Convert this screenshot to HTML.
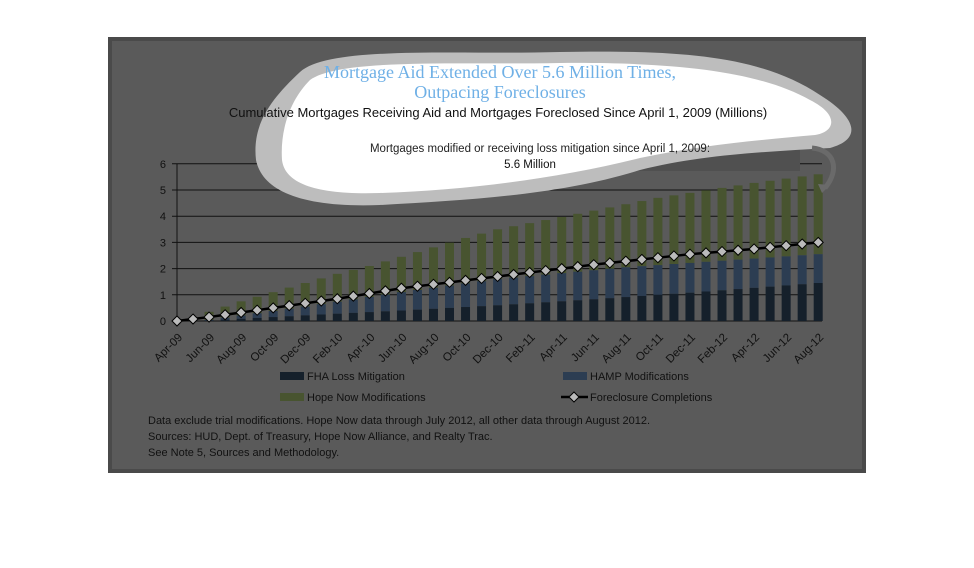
<!DOCTYPE html>
<html><head><meta charset="utf-8"><style>
html,body{margin:0;padding:0;background:#fff;width:974px;height:568px;overflow:hidden}
svg{display:block}
text{font-family:"Liberation Sans",sans-serif}
</style></head><body>
<svg id="s" width="974" height="568" xmlns="http://www.w3.org/2000/svg">
<rect x="0" y="0" width="974" height="568" fill="#fff"/>
<rect x="108" y="37" width="758" height="436" fill="#4a4a4a"/>
<rect x="112" y="41" width="750" height="428" fill="#5a5a5a"/>
<g id="grid"></g>
<g id="bars"></g>
<g id="line"></g>
<g id="xl"></g>
<rect x="278" y="138" width="522" height="33" fill="#505050"/>
<path d="M300,72 C330,45 460,55 560,52 C680,50 760,55 820,95 C860,120 860,140 830,148 C760,152 700,155 640,170 C560,195 470,200 380,205 C300,208 262,190 256,160 C252,125 270,100 300,72 Z" fill="#bdbdbd"/>
<path d="M310,80 C340,58 460,65 560,63 C680,62 760,72 810,100 C840,115 835,132 815,135 C760,140 700,145 640,158 C560,178 470,190 380,193 C320,195 285,185 282,160 C280,130 290,100 310,80 Z" fill="#fff"/>
<path d="M812,148 C835,150 840,170 825,188" fill="none" stroke="#6a6a6a" stroke-width="5"/>
<path d="M818,184 L822,193 L830,185 Z" fill="#6a6a6a"/>
<text x="500" y="78" text-anchor="middle" font-size="18" fill="#6fb0e6" style="font-family:'Liberation Serif',serif">Mortgage Aid Extended Over 5.6 Million Times,</text>
<text x="500" y="98" text-anchor="middle" font-size="18" fill="#6fb0e6" style="font-family:'Liberation Serif',serif">Outpacing Foreclosures</text>
<text x="498" y="117" text-anchor="middle" font-size="13" fill="#111">Cumulative Mortgages Receiving Aid and Mortgages Foreclosed Since April 1, 2009 (Millions)</text>
<text x="540" y="152" text-anchor="middle" font-size="11.5" fill="#222">Mortgages modified or receiving loss mitigation since April 1, 2009:</text>
<text x="530" y="168" text-anchor="middle" font-size="11.5" fill="#111">5.6 Million</text>
<g font-size="11" fill="#111">
<rect x="280" y="372" width="24" height="8" fill="#15202b"/><text x="307" y="380">FHA Loss Mitigation</text>
<rect x="563" y="372" width="24" height="8" fill="#2c3d52"/><text x="590" y="380">HAMP Modifications</text>
<rect x="280" y="393" width="24" height="8" fill="#485430"/><text x="307" y="401">Hope Now Modifications</text>
<line x1="561" y1="397" x2="588" y2="397" stroke="#000" stroke-width="2.5"/><path d="M574,392 L579,397 L574,402 L569,397 Z" fill="#bbb" stroke="#000"/><text x="590" y="401">Foreclosure Completions</text>
<text x="148" y="424">Data exclude trial modifications. Hope Now data through July 2012, all other data through August 2012.</text>
<text x="148" y="440">Sources:  HUD, Dept. of Treasury, Hope Now Alliance, and Realty Trac.</text>
<text x="148" y="456">See Note 5, Sources and Methodology.</text>
</g>
</svg>
<script>
var NS="http://www.w3.org/2000/svg";
function el(p,t,a,txt){var e=document.createElementNS(NS,t);for(var k in a)e.setAttribute(k,a[k]);if(txt!=null)e.textContent=txt;document.getElementById(p).appendChild(e);return e;}
var y0=321,sc=26.2,x0=177,dx=16.03;
function Y(v){return y0-v*sc}
function interp(pts,i){for(var k=0;k<pts.length-1;k++){if(i<=pts[k+1][0]){var a=pts[k],b=pts[k+1];return a[1]+(b[1]-a[1])*(i-a[0])/(b[0]-a[0]);}}return pts[pts.length-1][1];}
var tot=[[0,0],[1,0.1],[2,0.35],[4,0.75],[6,1.1],[8,1.45],[10,1.8],[12,2.1],[14,2.45],[18,3.17],[20,3.5],[24,3.97],[30,4.7],[36,5.27],[40,5.6]];
var fhaP=[[0,0],[2,0.02],[6,0.15],[10,0.28],[14,0.4],[20,0.6],[26,0.83],[32,1.08],[40,1.45]];
var hampP=[[0,0],[2,0.04],[8,0.55],[14,1.1],[20,1.6],[28,2.05],[34,2.3],[40,2.55]];
var fcP=[[0,0],[2,0.15],[6,0.5],[10,0.85],[14,1.25],[20,1.7],[26,2.15],[32,2.55],[36,2.75],[40,3.0]];
for(var g=0;g<=6;g++){el("grid","line",{x1:x0-5,y1:Y(g),x2:822,y2:Y(g),stroke:"#111","stroke-width":1});el("grid","text",{x:166,y:Y(g)+4,"font-size":11,fill:"#111","text-anchor":"end"},g);}
el("grid","line",{x1:x0,y1:Y(6),x2:x0,y2:y0,stroke:"#111"});
var months=["Apr","May","Jun","Jul","Aug","Sep","Oct","Nov","Dec","Jan","Feb","Mar"];
var pts=[];
for(var i=0;i<=40;i++){var x=x0+i*dx;var t=interp(tot,i),f=interp(fhaP,i),h=interp(hampP,i),c=interp(fcP,i);
 if(i>0){el("bars","rect",{x:x-4.5,y:Y(t),width:9,height:(t-h)*sc,fill:"#485430"});
 el("bars","rect",{x:x-4.5,y:Y(h),width:9,height:(h-f)*sc,fill:"#2c3d52"});
 el("bars","rect",{x:x-4.5,y:Y(f),width:9,height:f*sc,fill:"#15202b"});}
 pts.push(x+","+Y(c));
 if(i%2==0){var m=months[i%12],yr=9+Math.floor((i+3)/12);var lab=m+"-"+(yr<10?"0"+yr:yr);
  var tx=x+6,ty=338;el("xl","text",{x:tx,y:ty,"font-size":11.5,fill:"#111","text-anchor":"end",transform:"rotate(-45 "+tx+" "+ty+")"},lab);}
}
el("line","polyline",{points:pts.join(" "),fill:"none",stroke:"#000","stroke-width":2.5});
pts.forEach(function(p){var a=p.split(","),x=+a[0],y=+a[1];el("line","path",{d:"M"+x+","+(y-5)+" L"+(x+5)+","+y+" L"+x+","+(y+5)+" L"+(x-5)+","+y+" Z",fill:"#bbb",stroke:"#000","stroke-width":1});});
</script>
</body></html>
